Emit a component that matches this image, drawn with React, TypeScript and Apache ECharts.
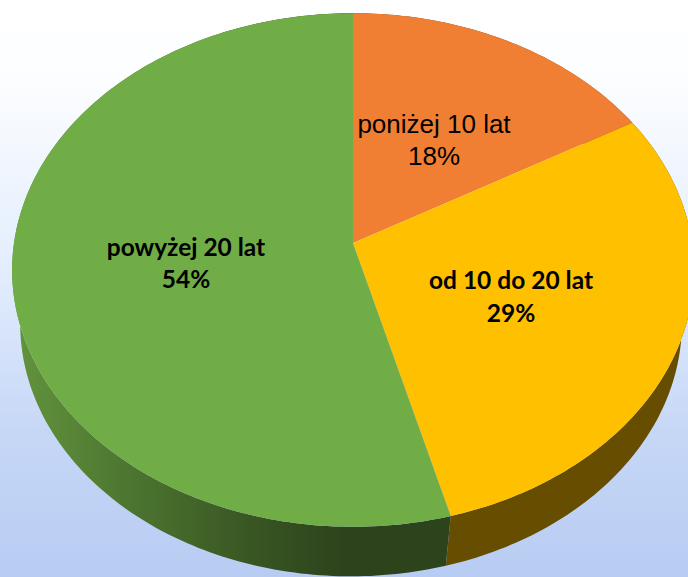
import React, { useEffect, useRef } from "react";
import * as echarts from "echarts";

const categories = ["poniżej 10 lat", "od 10 do 20 lat", "powyżej 20 lat"];
const percentLabels = ["18%", "29%", "54%"];
// Shares (the printed labels round differently).
const sliceShares = [16.7, 29.13, 54.17];

const topColors = ["#F07F33", "#FFC000", "#70AD47"];
const wallColors = ["#7a3f18", "#664D00", "#2D431C"];

const TOP = { cx: 353, cy: 243, a: 339, b: 254, p: 0.105 };
const BOTTOM = { cx: 351, cy: 297, a: 329, b: 250, p: 0.105 };

const LABELS = [
  { x: 434, y1: 124, y2: 156, font: "400 26px 'Liberation Sans'" },
  { x: 511, y1: 279, y2: 312, font: "700 24.5px Lato" },
  { x: 186, y1: 246, y2: 278, font: "700 24.5px Lato" },
];

const project = (g: typeof TOP, deg: number): number[] => {
  const t = (deg * Math.PI) / 180;
  const x = Math.sin(t);
  const y = Math.cos(t);
  const w = 1 + g.p * y;
  return [g.cx + (g.a * x) / w, g.cy - (g.b * y) / w];
};

const range = (i: number): number[] => {
  const total = sliceShares.reduce((s, v) => s + v, 0);
  const before = sliceShares.slice(0, i).reduce((s, v) => s + v, 0);
  return [(before / total) * 360, ((before + sliceShares[i]) / total) * 360];
};

const arc = (g: typeof TOP, from: number, to: number): number[][] => {
  const pts: number[][] = [];
  const n = Math.max(2, Math.ceil(Math.abs(to - from)));
  for (let k = 0; k <= n; k++) pts.push(project(g, from + ((to - from) * k) / n));
  return pts;
};

const wallFill = (i: number): any =>
  i === 2
    ? new echarts.graphic.LinearGradient(
        17,
        0,
        400,
        0,
        [
          { offset: 0, color: "#62933C" },
          { offset: 0.3, color: "#4C7530" },
          { offset: 0.6, color: "#395723" },
          { offset: 0.85, color: "#2D431C" },
          { offset: 1, color: "#2D431C" },
        ],
        true
      )
    : wallColors[i];

const renderWall = (params: any) => {
  const i = params.dataIndex;
  const [a, b] = range(i);
  const points = [...arc(TOP, a, b), ...arc(BOTTOM, b, a)];
  return {
    type: "polygon",
    shape: { points },
    style: { fill: wallFill(i), stroke: "none" },
  };
};

const renderTop = (params: any) => {
  const i = params.dataIndex;
  const [a, b] = range(i);
  const points = [[TOP.cx, TOP.cy], ...arc(TOP, a, b)];
  return {
    type: "polygon",
    shape: { points },
    style: { fill: topColors[i], stroke: "none" },
  };
};

const renderLabel = (params: any) => {
  const i = params.dataIndex;
  const l = LABELS[i];
  const common = { fill: "#000", font: l.font, align: "center", verticalAlign: "middle" };
  return {
    type: "group",
    children: [
      { type: "text", style: { ...common, x: l.x, y: l.y1, text: categories[i] } },
      { type: "text", style: { ...common, x: l.x, y: l.y2, text: percentLabels[i] } },
    ],
  };
};

export default function App() {
  const ref = useRef<HTMLDivElement>(null);
  useEffect(() => {
    document.body.style.margin = "0";
    document.documentElement.style.overflow = "hidden";
    const chart = echarts.init(ref.current!, undefined, { renderer: "svg" });
    const data = categories.map((name, i) => ({ name, value: sliceShares[i] }));
    chart.setOption({
      animation: false,
      backgroundColor: new echarts.graphic.LinearGradient(0, 0, 0, 1, [
        { offset: 0, color: "#FFFFFF" },
        { offset: 0.12, color: "#FDFEFF" },
        { offset: 0.45, color: "#E4EEFE" },
        { offset: 0.75, color: "#C6D7F6" },
        { offset: 1, color: "#B8CCF3" },
      ]),
      series: [
        { type: "custom", coordinateSystem: "none", z: 1, data, renderItem: renderWall, silent: true },
        { type: "custom", coordinateSystem: "none", z: 2, data, renderItem: renderTop, silent: true },
        { type: "custom", coordinateSystem: "none", z: 3, data, renderItem: renderLabel, silent: true },
      ],
    });
    return () => chart.dispose();
  }, []);
  return <div ref={ref} style={{ width: 688, height: 577, display: "block" }} />;
}
